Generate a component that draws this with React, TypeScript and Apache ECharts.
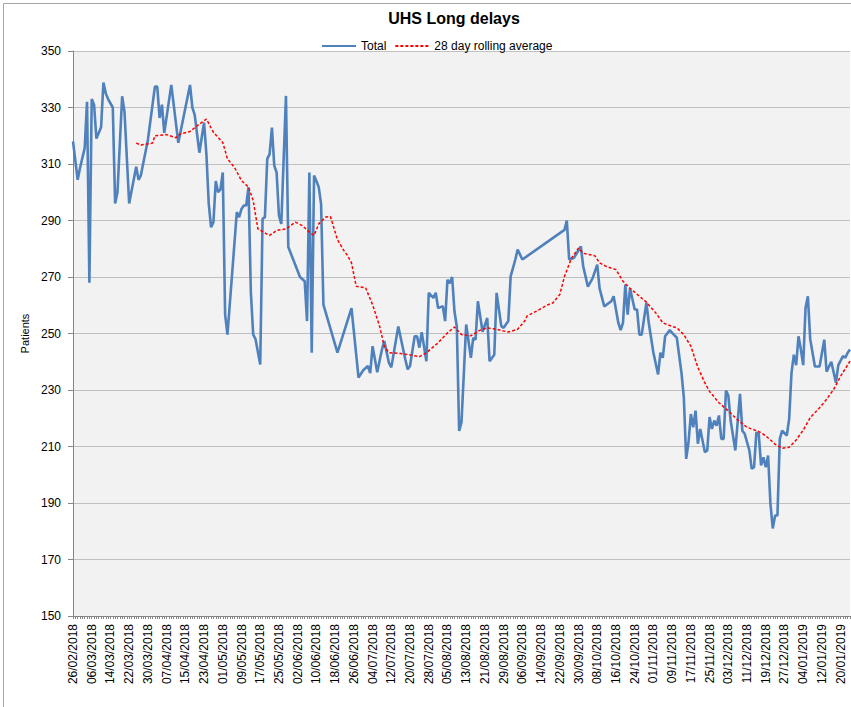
import React, { useEffect, useRef } from "react";
import * as echarts from "echarts";

const START_UTC = Date.UTC(2018, 1, 26);
const DAY_COUNT = 333;
const pad = (n: number) => (n < 10 ? "0" + n : "" + n);
const dates: string[] = Array.from({ length: DAY_COUNT }, (_, i) => {
  const dt = new Date(START_UTC + i * 86400000);
  return `${pad(dt.getUTCDate())}/${pad(dt.getUTCMonth() + 1)}/${dt.getUTCFullYear()}`;
});

// [day index from 26/02/2018, patients]
const totalSeries: [number, number][] = [
  [0, 318], [2, 304.4], [3, 308.6], [5, 315.7], [6, 332], [7, 268], [8, 333], [9, 331], [10, 319],
  [12, 323], [13, 338.8], [14, 335], [15, 333], [17, 330], [18, 296], [19, 300], [21, 334], [22, 328.5],
  [24, 296], [27, 309], [28, 304.4], [29, 306], [32, 318.5], [35, 337.4], [36, 337.4], [37, 326.3],
  [38, 331], [39, 321], [42, 338], [45, 317.5], [50, 338], [51, 330], [52, 327.4], [54, 314], [56, 324.7],
  [57, 313.5], [58, 296], [59, 287.6], [60, 289.4], [61, 304], [62, 300], [63, 301], [64, 307], [65, 256.7],
  [66, 249.6], [70, 293], [71, 291.2], [72, 294.1], [73, 295.3], [74, 295.3], [75, 301.8], [76, 264.5],
  [77, 249.6], [78, 248], [80, 239], [81, 290.6], [82, 291.2], [83, 311.8], [84, 313.5], [85, 322.9],
  [86, 309.4], [87, 307], [88, 291.8], [89, 288.8], [91, 334.1], [92, 280.6], [97, 270], [99, 268.5],
  [100, 254.4], [101, 307], [102, 243.2], [103, 305.9], [104, 304], [105, 301.8], [106, 295.9], [107, 260.2],
  [113, 243.2], [119, 259], [122, 234.4], [124, 237], [126, 238.5], [127, 236], [128, 245.5], [130, 236.3],
  [132, 244.3], [133, 247.3], [135, 239.6], [136, 238], [139, 252.5], [142, 240.8], [143, 237.3],
  [144, 238.5], [146, 249], [147, 249], [148, 245], [149, 250.5], [151, 240.2], [152, 264.4], [154, 262.6],
  [155, 264.4], [156, 259], [158, 259.7], [159, 254.4], [160, 269], [161, 267.8], [162, 270], [163, 257.8],
  [164, 252.5], [165, 215.5], [166, 218.6], [168, 253.2], [170, 241.4], [171, 248.4], [172, 247.8],
  [173, 261.4], [175, 250.6], [177, 255.5], [178, 240.2], [180, 242.5], [181, 264.4], [183, 252.6],
  [184, 252], [186, 254.4], [187, 270.2], [189, 276.2], [190, 279.7], [192, 276.2], [210, 286.7], [211, 290],
  [212, 276.2], [214, 276.7], [217, 280.8], [218, 273.8], [220, 266.6], [222, 269.5], [224, 274.4],
  [225, 266], [227, 259.6], [230, 261.4], [231, 263.2], [233, 253.8], [234, 251.2], [235, 253.8],
  [236, 267.3], [237, 256.7], [238, 266], [240, 258.5], [241, 258.5], [242, 249.6], [243, 249.6],
  [245, 260.9], [246, 253.8], [248, 243.2], [250, 235.5], [251, 243.2], [252, 241.4], [253, 249],
  [255, 251.2], [256, 250.2], [258, 248.5], [260, 236], [261, 227.4], [262, 205.6], [263, 211.5],
  [264, 221.5], [265, 216.8], [266, 222.7], [267, 211], [268, 216.2], [270, 208], [271, 208.6],
  [272, 220.4], [273, 216.2], [274, 219.2], [275, 217.4], [276, 221], [277, 212.7], [278, 212.7],
  [279, 229.8], [280, 228], [281, 219.2], [282, 213.9], [283, 208.6], [285, 228.6], [286, 215.6],
  [287, 214.5], [289, 208.6], [290, 202.1], [291, 202.7], [292, 215], [293, 214.5], [294, 203.3],
  [295, 206.2], [296, 202.7], [297, 206.8], [298, 189.8], [299, 181], [300, 185.6], [301, 185.6],
  [302, 212.7], [303, 215.6], [305, 213.9], [306, 219.8], [307, 236], [308, 242.5], [309, 238.8],
  [310, 249], [311, 244.4], [312, 238.8], [313, 259], [314, 263.2], [315, 248], [317, 238.3], [319, 238.3],
  [321, 247.8], [322, 236.5], [324, 240], [326, 232.6], [327, 238.8], [329, 242], [330, 241.4],
  [331, 243.2], [332, 244.3],
];

const rollingSeries: [number, number][] = [
  [27, 317.4], [29, 316.7], [34, 317.4], [35, 320], [40, 320.4], [44, 319.3], [46, 320.7], [50, 321.5],
  [53, 323.5], [55, 324.7], [57, 325.9], [60, 321.2], [64, 317.6], [66, 311.8], [69, 308.8], [72, 304.1],
  [75, 301.8], [77, 297], [79, 287], [84, 284.7], [87, 286.5], [91, 287], [95, 289.4], [98, 288.2],
  [101, 285.9], [103, 284.7], [105, 288.8], [108, 291.2], [110, 291.4], [113, 283.2], [116, 279],
  [117, 278], [119, 275], [121, 266.7], [125, 266.2], [128, 260.2], [131, 252.6], [133, 245.5],
  [135, 243.2], [140, 242.9], [144, 242.4], [148, 241.8], [151, 243.2], [156, 246.7], [160, 250.2],
  [163, 252.3], [166, 249.6], [170, 249.2], [174, 251.2], [177, 252], [181, 251.5], [186, 250.5],
  [190, 251.5], [193, 254.4], [194, 256.2], [198, 257.9], [203, 260.2], [205, 260.8], [208, 263.8],
  [210, 270.2], [213, 276.7], [216, 280.2], [218, 278.4], [223, 277.5], [225, 275], [228, 273.7],
  [232, 272.6], [235, 268.5], [238, 266], [242, 263.2], [245, 261.1], [249, 257.3], [252, 253.8],
  [256, 252.5], [258, 252], [261, 249.6], [264, 245.5], [267, 238], [270, 232.5], [272, 229.5],
  [276, 225.5], [280, 222.6], [284, 219.4], [288, 216.8], [293, 215.3], [296, 213.8], [300, 210.8],
  [303, 209.4], [306, 209.7], [309, 212.3], [312, 215.8], [315, 220.2], [319, 223.7], [322, 226.7],
  [325, 230.2], [328, 234.9], [332, 240.2],
];

const Y_MIN = 150;
const Y_MAX = 350;
const Y_STEP = 20;
const FONT = "'Liberation Sans', Arial, sans-serif";

export default function App() {
  const ref = useRef<HTMLDivElement>(null);
  useEffect(() => {
    if (!ref.current) return;
    const chart = echarts.init(ref.current, undefined, { renderer: "svg" });
    chart.setOption({
      animation: false,
      backgroundColor: "#ffffff",
      textStyle: { fontFamily: FONT },
      title: {
        text: "UHS Long delays",
        left: 449,
        textAlign: "center",
        top: 5,
        textStyle: { fontFamily: FONT, fontSize: 16, fontWeight: "bold", color: "#000" },
      },
      legend: {
        left: 316,
        top: 35,
        itemWidth: 34,
        itemHeight: 12,
        itemGap: 8,
        itemStyle: { opacity: 0 },
        textStyle: { fontFamily: FONT, fontSize: 12, color: "#000" },
        data: ["Total", "28 day rolling average"],
      },
      graphic: [
        {
          type: "rect",
          left: 1,
          top: 1,
          shape: { width: 860, height: 704 },
          style: { fill: "none", stroke: "#a6a6a6", lineWidth: 1 },
          silent: true,
          z: 100,
        },
      ],
      grid: {
        left: 73,
        right: 1,
        top: 51,
        bottom: 91,
        show: true,
        backgroundColor: "#f2f2f2",
        borderWidth: 0,
      },
      xAxis: {
        type: "category",
        data: dates,
        boundaryGap: false,
        axisLine: { lineStyle: { color: "#868686", width: 1 } },
        axisTick: { interval: 0, length: 3, lineStyle: { color: "#868686" } },
        axisLabel: {
          interval: 7,
          rotate: 90,
          fontSize: 12,
          color: "#000",
          fontFamily: FONT,
          margin: 8,
        },
        splitLine: { show: false },
      },
      yAxis: {
        type: "value",
        min: Y_MIN,
        max: Y_MAX,
        interval: Y_STEP,
        name: "Patients",
        nameLocation: "middle",
        nameGap: 40,
        nameRotate: 90,
        nameTextStyle: { fontFamily: FONT, fontSize: 11, color: "#000" },
        axisLine: { show: true, lineStyle: { color: "#868686", width: 1 } },
        axisTick: { show: true, length: 5, lineStyle: { color: "#868686" } },
        axisLabel: { fontSize: 12, color: "#000", fontFamily: FONT, margin: 12 },
        splitLine: { show: true, lineStyle: { color: "#c0c0c0", width: 1.2 } },
      },
      series: [
        {
          name: "Total",
          type: "line",
          data: totalSeries,
          symbol: "none",
          lineStyle: { color: "#4f81bd", width: 2.6 },
          itemStyle: { color: "#4f81bd" },
          z: 2,
        },
        {
          name: "28 day rolling average",
          type: "line",
          data: rollingSeries,
          symbol: "none",
          lineStyle: { color: "#ff0000", width: 1.5, type: [3, 2] },
          itemStyle: { color: "#ff0000" },
          z: 3,
        },
      ],
    });
    return () => chart.dispose();
  }, []);
  return (
    <div
      ref={ref}
      style={{ position: "fixed", left: 0, top: 0, width: 851, height: 707 }}
    />
  );
}
